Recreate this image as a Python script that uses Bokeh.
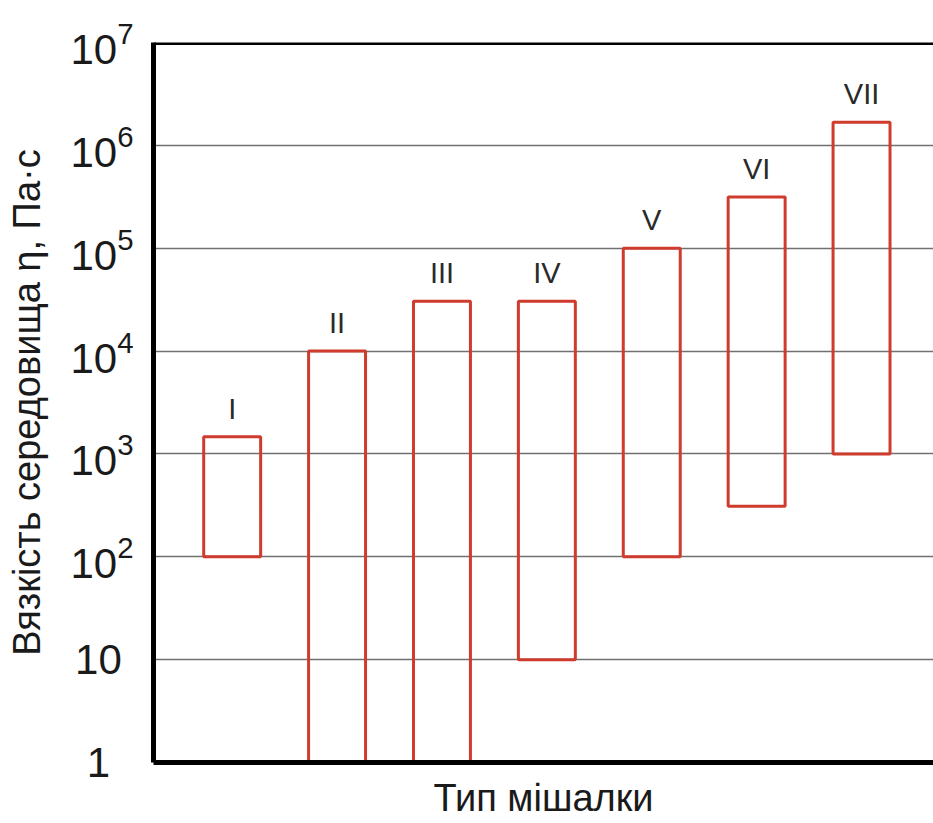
from bokeh.plotting import figure
from bokeh.models import FixedTicker, Span, ColumnDataSource, Range1d
from bokeh.core.properties import value
from bokeh.embed import file_html
from bokeh.resources import INLINE

# ---- data ----
mixer_types = ["I", "II", "III", "IV", "V", "VI", "VII"]
positions = [1, 2, 3, 4, 5, 6, 7]
visc_low = [100, 1, 1, 10, 100, 310, 1000]
visc_high = [1470, 10000, 30500, 30500, 100000, 315000, 1680000]
y_ticks = [1, 10, 100, 1000, 10000, 100000, 1000000, 10000000]
# plain labels for the two lowest ticks (the rest use the 10^n power format)
plain_ticks = [1, 10]
plain_labels = ["1\u00a0\u00a0", "10\u00a0"]
y_title = "Вязкість середовища η, Па·с"
x_title = "Тип мішалки"

FONT = "Liberation Sans, Arial, DejaVu Sans, sans-serif"
bar_w = 0.543
x0, x1 = 0.25, 7.686

p = figure(width=933, height=823, y_axis_type="log",
           x_range=Range1d(x0, x1), y_range=Range1d(1, 1e7),
           output_backend="svg", toolbar_location=None,
           min_border_left=153, min_border_right=0, min_border_top=42,
           min_border_bottom=61)
p.outline_line_color = None
p.background_fill_color = "white"
p.border_fill_color = "white"

src = ColumnDataSource(dict(
    left=[x - bar_w / 2 for x in positions],
    right=[x + bar_w / 2 for x in positions],
    bottom=visc_low, top=visc_high, x=positions, name=mixer_types))

p.quad(left="left", right="right", bottom="bottom", top="top", source=src,
       fill_color=None, line_color="#cf3b2c", line_width=3)
p.text(x="x", y="top", text="name", source=src, y_offset=-12,
       text_align="center", text_baseline="bottom",
       text_font=value(FONT), text_font_size="29px", text_color="#2a2a2a")

# grid
p.xgrid.visible = False
p.ygrid.ticker = FixedTicker(ticks=y_ticks)
p.ygrid.grid_line_color = "#707070"
p.ygrid.grid_line_width = 1.5

# y axis
ya = p.yaxis[0]
ya.ticker = FixedTicker(ticks=y_ticks)
ya.major_label_overrides = {float(t): lab for t, lab in zip(plain_ticks, plain_labels)}
ya.major_tick_line_color = None
ya.minor_tick_line_color = None
ya.major_label_text_font = FONT
ya.major_label_text_font_size = "42px"
ya.major_label_text_color = "#1a1a1a"
ya.major_label_standoff = 14
ya.axis_line_color = "black"
ya.axis_line_width = 5
ya.axis_label = y_title
ya.axis_label_text_font = FONT
ya.axis_label_text_font_size = "38px"
ya.axis_label_text_font_style = "normal"
ya.axis_label_text_color = "#1a1a1a"
ya.axis_label_standoff = 19

# x axis
xa = p.xaxis[0]
xa.ticker = FixedTicker(ticks=[])
xa.major_tick_line_color = None
xa.minor_tick_line_color = None
xa.major_tick_out = 0
xa.major_tick_in = 0
xa.major_label_standoff = 0
xa.major_label_text_font_size = "0px"
xa.axis_line_color = "black"
xa.axis_line_width = 5
xa.axis_label = x_title
xa.axis_label_text_font = FONT
xa.axis_label_text_font_size = "38px"
xa.axis_label_text_font_style = "normal"
xa.axis_label_text_color = "#1a1a1a"
xa.axis_label_standoff = 14

p.add_layout(Span(location=1e7, dimension="width", line_color="black", line_width=5))

open("out.html", "w").write(file_html(p, INLINE))
